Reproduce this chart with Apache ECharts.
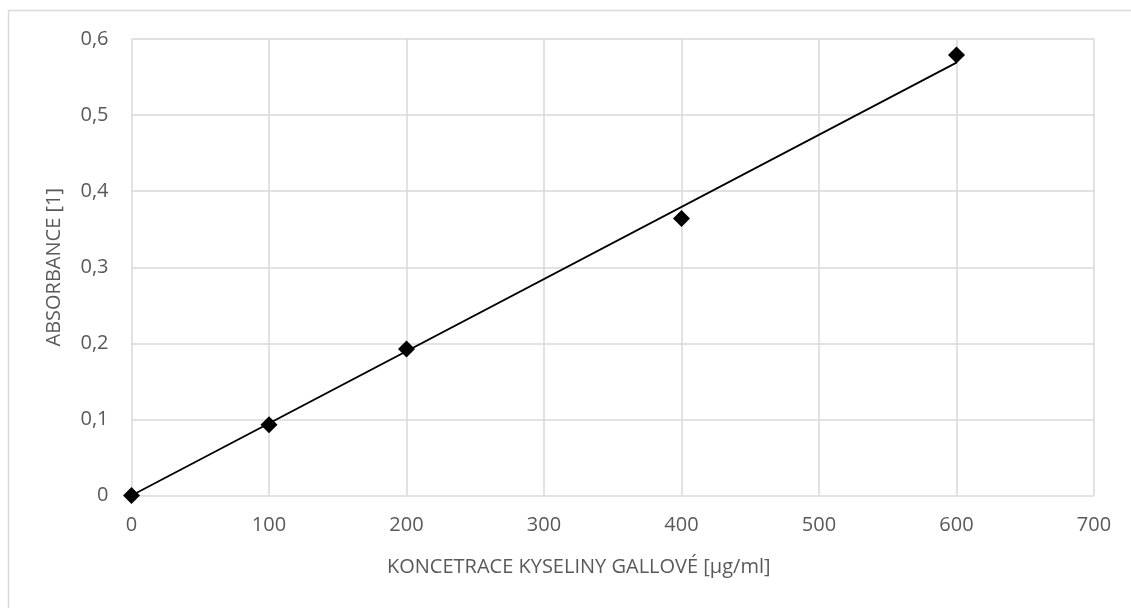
<!DOCTYPE html>
<html>
<head>
<meta charset="utf-8">
<script src="https://cdn.jsdelivr.net/npm/echarts@6/dist/echarts.min.js"></script>
<style>
  html, body { margin: 0; padding: 0; background: #fff; }
  #chart { width: 1131px; height: 608px; }
</style>
</head>
<body>
<div id="chart"></div>
<script>
// Calibration: gallic acid concentration vs. absorbance
const concentration = [0, 100, 200, 400, 600];
const absorbance = [0, 0.093, 0.1925, 0.364, 0.579];

// Linear trendline end points
const trendX = [0, 600];
const trendY = [0, 0.569];

const xTicks = [0, 100, 200, 300, 400, 500, 600, 700];
const yTicks = [0, 0.1, 0.2, 0.3, 0.4, 0.5, 0.6];

const xTitle = 'KONCETRACE KYSELINY GALLOVÉ [µg/ml]';
const yTitle = 'ABSORBANCE [1]';

const FONT = '"Open Sans", "Liberation Sans", sans-serif';
const TEXT = '#595959';
const GRID = '#d9d9d9';
const FS = 20;

const points = concentration.map((c, i) => [c, absorbance[i]]);
const trend = trendX.map((c, i) => [c, trendY[i]]);

const chart = echarts.init(document.getElementById('chart'), null, { renderer: 'canvas' });
chart.setOption({
  animation: false,
  backgroundColor: '#fff',
  graphic: [{
    type: 'rect',
    shape: { x: 8.5, y: 10.5, width: 1200, height: 700 },
    style: { fill: 'none', stroke: GRID, lineWidth: 1.5 },
    silent: true
  }],
  grid: { left: 131.5, right: 37, top: 39, bottom: 112.5, containLabel: false },
  xAxis: {
    type: 'value',
    min: xTicks[0],
    max: xTicks[xTicks.length - 1],
    interval: 100,
    name: xTitle,
    nameLocation: 'middle',
    nameGap: 62,
    nameTextStyle: { color: TEXT, fontFamily: FONT, fontSize: FS, padding: [0, 68, 0, 0] },
    axisLine: { show: false },
    axisTick: { show: false },
    axisLabel: { color: TEXT, fontFamily: FONT, fontSize: FS, margin: 20 },
    splitLine: { show: true, lineStyle: { color: GRID, width: 1.5 } }
  },
  yAxis: {
    type: 'value',
    min: yTicks[0],
    max: yTicks[yTicks.length - 1],
    interval: 0.1,
    name: yTitle,
    nameLocation: 'middle',
    nameGap: 67,
    nameRotate: 90,
    nameTextStyle: { color: TEXT, fontFamily: FONT, fontSize: FS },
    axisLine: { show: false },
    axisTick: { show: false },
    axisLabel: {
      color: TEXT, fontFamily: FONT, fontSize: FS, margin: 23,
      formatter: v => String(Math.round(v * 10) / 10).replace('.', ',')
    },
    splitLine: { show: true, lineStyle: { color: GRID, width: 1.5 } }
  },
  series: [
    {
      name: 'trend',
      type: 'line',
      data: trend,
      showSymbol: false,
      symbol: 'none',
      lineStyle: { color: '#000', width: 1.8 },
      z: 2
    },
    {
      name: 'absorbance',
      type: 'scatter',
      data: points,
      symbol: 'diamond',
      symbolSize: [17, 17],
      itemStyle: { color: '#000', opacity: 1 },
      z: 3
    }
  ]
});
</script>
</body>
</html>
